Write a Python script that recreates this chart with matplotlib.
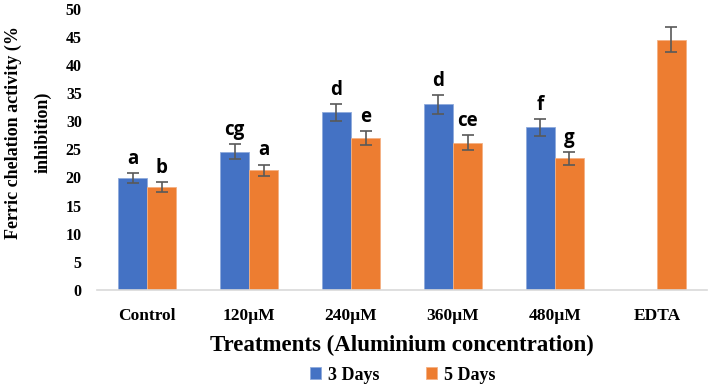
import matplotlib.pyplot as plt
import numpy as np

categories = ['Control', '120µM', '240µM', '360µM', '480µM', 'EDTA']
days3 = [19.9, 24.6, 31.6, 33.0, 28.9, np.nan]
days5 = [18.3, 21.3, 27.0, 26.2, 23.4, 44.5]
err3 = [0.9, 1.3, 1.5, 1.7, 1.5, np.nan]
err5 = [0.9, 1.0, 1.3, 1.3, 1.1, 2.2]
letters3 = ['a', 'cg', 'd', 'd', 'f', '']
letters5 = ['b', 'a', 'e', 'ce', 'g', '']

serif = 'Liberation Serif'

fig = plt.figure(figsize=(7.09, 3.87), dpi=100)
ax = fig.add_axes([0.137, 0.251, 0.86, 0.726])

x = np.arange(len(categories))
w = 0.285
ekw = dict(ecolor='#595959', elinewidth=1.2, capsize=4, capthick=1.2)
ax.bar(x - w/2, days3, w, yerr=err3, color='#4472C4', edgecolor='#8faadc',
       linewidth=0.6, label='3 Days', error_kw=ekw)
ax.bar(x + w/2, days5, w, yerr=err5, color='#ED7D31', edgecolor='#f4b183',
       linewidth=0.6, label='5 Days', error_kw=ekw)

# significance letters
for i in range(len(categories)):
    for val, e, lab, off in [(days3[i], err3[i], letters3[i], -w/2),
                             (days5[i], err5[i], letters5[i], w/2)]:
        if lab:
            ax.annotate(lab, (x[i] + off, val + e), xytext=(0, 3),
                        textcoords='offset points', ha='center', va='bottom',
                        fontsize=13.5, fontweight='bold', family='Open Sans')

ax.set_ylim(0, 50)
ax.set_xlim(-0.49, 5.49)
ax.set_yticks(range(0, 51, 5))
ax.set_xticks(x)
ax.set_xticklabels(categories)
for s in ['top', 'right', 'left']:
    ax.spines[s].set_visible(False)
ax.spines['bottom'].set_color('#d9d9d9')
ax.spines['bottom'].set_linewidth(1.2)
ax.tick_params(axis='y', length=0, pad=11, labelsize=11.5)
ax.tick_params(axis='x', length=0, pad=13, labelsize=12.5)
for t in ax.get_xticklabels() + ax.get_yticklabels():
    t.set_family(serif)
    t.set_fontweight('bold')

ax.set_xlabel('Treatments (Aluminium concentration)', family=serif,
              fontweight='bold', fontsize=16.5, labelpad=8)
ax.set_ylabel('Ferric chelation activity (%\ninhibition)', family=serif,
              fontweight='bold', fontsize=13, labelpad=10, linespacing=1.95)
ax.yaxis.label.set_y(0.56)

leg = fig.legend(loc='center', bbox_to_anchor=(0.568, 0.031), ncol=2,
                 frameon=False, handlelength=0.6, handleheight=0.6,
                 columnspacing=2.6, handletextpad=0.4, borderpad=0,
                 borderaxespad=0,
                 prop=dict(family=serif, weight='bold', size=13))

fig.savefig('out.png', dpi=100)
